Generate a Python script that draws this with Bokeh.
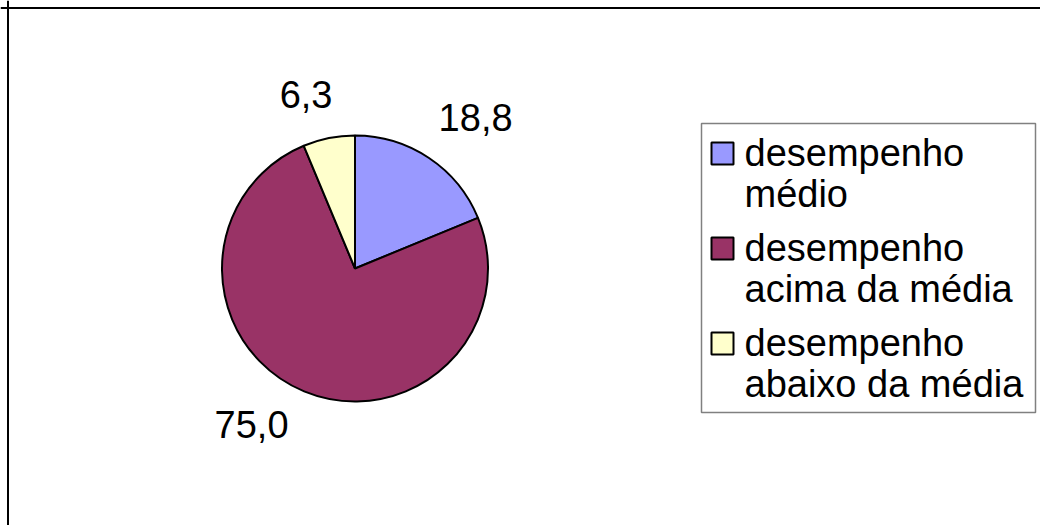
import numpy as np
from bokeh.plotting import figure
from bokeh.models import Range1d, Span, ColumnDataSource
from bokeh.core.properties import value
from bokeh.embed import file_html
from bokeh.resources import INLINE

# ---- data ----
categories = ["desempenho\nmédio", "desempenho\nacima da média", "desempenho\nabaixo da média"]
values = [18.8, 75.0, 6.3]
colors = ["#9999FF", "#993366", "#FFFFCC"]

FONT = value("Liberation Sans")
FS = "38px"

W, H = 1040, 525


def Y(py):
    """page-pixel y (down) -> data y (up)"""
    return H - py


p = figure(width=W, height=H, output_backend="svg", toolbar_location=None,
           x_range=Range1d(0, W), y_range=Range1d(0, H),
           x_axis_location=None, y_axis_location=None, min_border=0)
p.grid.visible = False
p.outline_line_color = None
p.background_fill_color = "white"

# chart-area border (only top and left visible in the reference)
p.add_layout(Span(location=7.5, dimension="height", line_color="black", line_width=2))
p.add_layout(Span(location=Y(7.5), dimension="width", line_color="black", line_width=2))

# ---- pie ----
cx, cy, r = 354.5, Y(268), 133
vals = np.array(values, dtype=float)
frac = vals / vals.sum()
cum = np.concatenate([[0.0], np.cumsum(frac)])
start = np.pi / 2 - cum[:-1] * 2 * np.pi
end = np.pi / 2 - cum[1:] * 2 * np.pi
mid = (start + end) / 2

src = ColumnDataSource(dict(start=start, end=end, color=colors))
p.wedge(x=cx, y=cy, radius=r, start_angle="start", end_angle="end",
        direction="clock", fill_color="color", line_color="black", line_width=2,
        source=src)

# ---- data labels (outside end) ----
lr = r * 1.13
label_nudge = [(0, 0), (-9, 3), (7, 0)]   # layout fine-tuning (pixels)
for v, a, (nx, ny) in zip(values, mid, label_nudge):
    lx = cx + lr * np.cos(a) + nx
    ly = cy + lr * np.sin(a) + ny
    align = "left" if np.cos(a) > 0 else "right"
    if np.sin(a) > 0:
        base, ly = "bottom", ly + 13
    else:
        base, ly = "top", ly - 7
    p.text(x=[lx], y=[ly], text=[f"{v:.1f}".replace(".", ",")],
           text_font=FONT, text_font_size=FS, text_color="black",
           text_align=align, text_baseline=base)

# ---- legend (drawn manually: box + swatches + wrapped text) ----
leg_l, leg_r, leg_t, leg_b = 701, 1035, 123, 412
p.quad(left=[leg_l], right=[leg_r], top=[Y(leg_t)], bottom=[Y(leg_b)],
       fill_color="white", line_color="#808080", line_width=1.5)

sw_x, sw_size = 722, 22
first_center, item_step, line_step = 153, 95, 41
txt_x = 744
for i, (cat, col) in enumerate(zip(categories, colors)):
    yc = first_center + i * item_step
    p.rect(x=[sw_x], y=[Y(yc)], width=sw_size, height=sw_size,
           fill_color=col, line_color="black", line_width=2)
    for j, line in enumerate(cat.split("\n")):
        p.text(x=[txt_x], y=[Y(yc - 1 + j * line_step)], text=[line],
               text_font=FONT, text_font_size=FS, text_color="black",
               text_align="left", text_baseline="alphabetic")

open("out.html", "w").write(file_html(p, INLINE))
